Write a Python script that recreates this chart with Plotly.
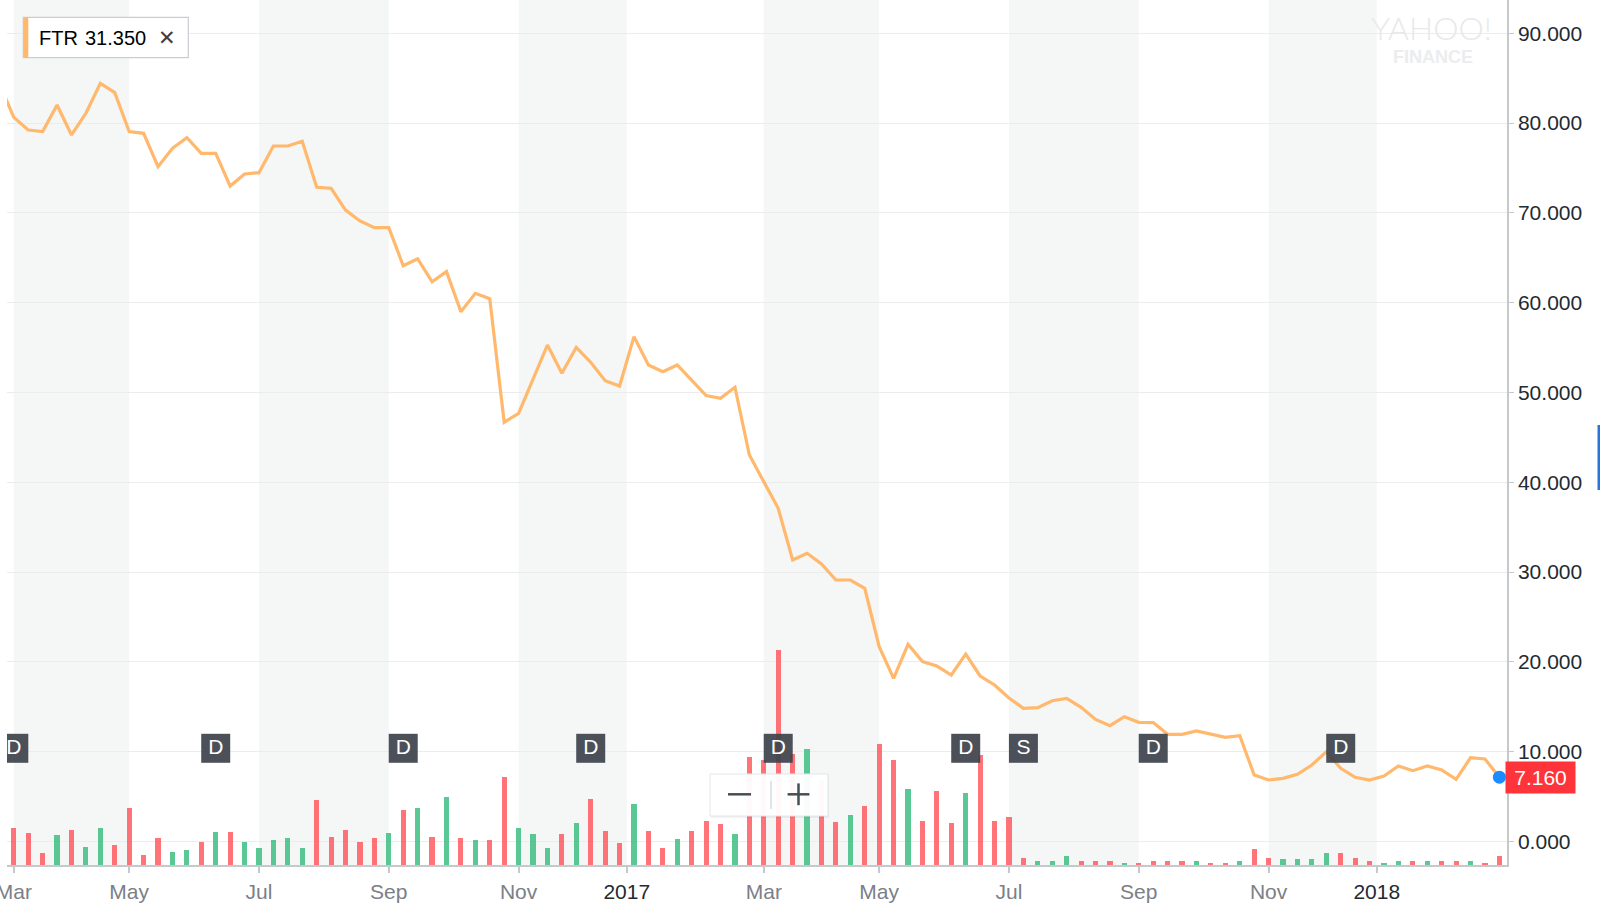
import pandas as pd
import plotly.graph_objects as go

# ---------------- data ----------------
weeks = [d.strftime("%Y-%m-%d") for d in pd.date_range("2016-02-29", periods=105, freq="7D")]

price = [84.4,
         80.64, 79.23, 79.05, 82.02, 78.68, 81.09, 84.43, 83.39, 79.05, 78.86,
         75.15, 77.19, 78.38, 76.63, 76.63, 72.99, 74.33, 74.48, 77.45, 77.45,
         77.97, 72.85, 72.74, 70.32, 69.10, 68.36, 68.36, 64.12, 64.90, 62.34,
         63.46, 59.00, 61.04, 60.45, 46.68, 47.68, 51.47, 55.29, 52.14, 55.03,
         53.36, 51.32, 50.72, 56.22, 53.06, 52.32, 53.06, 51.32, 49.65, 49.35,
         50.58, 43.04, 40.07, 37.10, 31.35, 32.09, 30.90, 29.12, 29.12, 28.20,
         21.70, 18.17, 21.96, 20.03, 19.54, 18.54, 20.88, 18.43, 17.43, 15.98,
         14.83, 14.90, 15.68, 15.94, 14.94, 13.60, 12.90, 13.90, 13.27, 13.24,
         11.94, 11.94, 12.31, 11.97, 11.60, 11.79, 7.41, 6.85, 7.03, 7.48,
         8.52, 10.00, 8.15, 7.15, 6.85, 7.29, 8.41, 7.89, 8.41, 7.96,
         6.92, 9.33, 9.19, 7.16]

volume_m = [60,
            74, 64, 24, 61, 71, 37, 74, 41, 114, 21,
            54, 27, 31, 47, 67, 67, 47, 34, 51, 54,
            34, 131, 57, 71, 47, 54, 64, 111, 114, 57,
            137, 54, 51, 51, 176, 75, 62, 35, 62, 85,
            132, 69, 45, 122, 69, 35, 52, 69, 89, 82,
            62, 217, 210, 431, 223, 233, 170, 87, 100, 119,
            243, 210, 152, 89, 149, 85, 145, 220, 89, 96,
            15, 9, 9, 19, 9, 9, 9, 5, 5, 9,
            9, 9, 9, 5, 5, 9, 32, 15, 12, 12,
            12, 25, 25, 15, 9, 5, 9, 9, 9, 9,
            9, 9, 5, 19]

# per-week direction (u = up week, d = down week)
direction = [
    "d",
    "d", "d", "d", "u", "d", "u", "u", "d", "d", "d",
    "d", "u", "u", "d", "u", "d", "u", "u", "u", "u",
    "u", "d", "d", "d", "d", "d", "u", "d", "u", "d",
    "u", "d", "u", "d", "d", "u", "u", "u", "d", "u",
    "d", "d", "d", "u", "d", "d", "u", "d", "d", "d",
    "u", "d", "d", "d", "d", "u", "d", "d", "u", "d",
    "d", "d", "u", "d", "d", "d", "u", "d", "d", "d",
    "d", "u", "u", "u", "d", "d", "d", "u", "d", "d",
    "d", "d", "u", "d", "d", "u", "d", "d", "u", "u",
    "u", "u", "d", "d", "d", "u", "u", "d", "u", "d",
    "d", "u", "d", "d",
]
assert len(price) == len(weeks) == len(volume_m) == len(direction)

event_weeks = ["2016-03-07", "2016-06-13", "2016-09-12", "2016-12-12", "2017-03-13",
               "2017-06-12", "2017-07-10", "2017-09-11", "2017-12-11"]
event_types = ["D", "D", "D", "D", "D", "D", "S", "D", "D"]

tick_dates = ["2016-03-07", "2016-05-02", "2016-07-04", "2016-09-05", "2016-11-07",
              "2016-12-29 12:00", "2017-03-06", "2017-05-01", "2017-07-03", "2017-09-04",
              "2017-11-06", "2017-12-28 12:00"]
tick_names = ["Mar", "May", "Jul", "Sep", "Nov", "2017", "Mar", "May", "Jul", "Sep", "Nov", "2018"]

band_edges = [("2016-03-07", "2016-05-02"), ("2016-07-04", "2016-09-05"),
              ("2016-11-07", "2016-12-29 12:00"), ("2017-03-06", "2017-05-01"),
              ("2017-07-03", "2017-09-04"), ("2017-11-06", "2017-12-28 12:00")]

y_ticks = [0, 10, 20, 30, 40, 50, 60, 70, 80, 90]
symbol = "FTR"
legend_value = "31.350"
last_price = price[-1]

# ---------------- styling ----------------
W, H = 1600, 903
ML, MR, MT, MB = 7, 93, 0, 38
PW, PH = W - ML - MR, H - MT - MB
FONT = "Liberation Sans"
LINE_C = "#ffb86c"
UP_C = "rgba(60,190,130,0.85)"
DN_C = "rgba(255,80,88,0.8)"
AXIS_C = "#c5c9cc"


def xp(px):
    return (px - ML) / PW


def yp(py):
    return 1 - (py - MT) / PH


fig = go.Figure()

fig.add_trace(go.Bar(
    x=weeks, y=volume_m, yaxis="y2",
    marker=dict(color=[UP_C if d == "u" else DN_C for d in direction], line=dict(width=0)),
    width=2.5 * 86400000, hoverinfo="skip", showlegend=False))

fig.add_trace(go.Scatter(
    x=weeks, y=price, mode="lines", yaxis="y",
    line=dict(color=LINE_C, width=3.2), hoverinfo="skip", showlegend=False))

fig.add_trace(go.Scatter(
    x=event_weeks, y=[1 - 748.3 / PH] * len(event_weeks), yaxis="y3",
    mode="markers+text", text=event_types, textposition="middle center",
    textfont=dict(family=FONT, size=21, color="white"),
    marker=dict(symbol="square", size=29, color="rgba(62,68,76,0.93)",
                line=dict(width=0)),
    hoverinfo="skip", showlegend=False))

fig.add_trace(go.Scatter(
    x=[weeks[-1]], y=[last_price], mode="markers", yaxis="y",
    marker=dict(size=13, color="#1a8cff"), cliponaxis=False,
    hoverinfo="skip", showlegend=False))

shapes = []
for a, b in band_edges:
    shapes.append(dict(type="rect", xref="x", yref="paper", x0=a, x1=b, y0=0, y1=1,
                       fillcolor="#f5f6f6", line=dict(width=0), layer="below"))

# legend chip
shapes.append(dict(type="rect", xref="paper", yref="paper", x0=xp(23.3), x1=xp(188.3),
                   y0=yp(57.7), y1=yp(17.3), fillcolor="white",
                   line=dict(color="#c9cdd1", width=1.2), layer="above"))
shapes.append(dict(type="rect", xref="paper", yref="paper", x0=xp(23.3), x1=xp(28.3),
                   y0=yp(57.7), y1=yp(17.3), fillcolor=LINE_C,
                   line=dict(width=0), layer="above"))

# zoom control
shapes.append(dict(type="rect", xref="paper", yref="paper", x0=xp(711), x1=xp(829),
                   y0=yp(818), y1=yp(775), fillcolor="rgba(0,0,0,0.05)",
                   line=dict(width=0), layer="above"))
shapes.append(dict(type="rect", xref="paper", yref="paper", x0=xp(710), x1=xp(828),
                   y0=yp(816), y1=yp(774), fillcolor="rgba(255,255,255,0.96)",
                   line=dict(color="#e3e6e8", width=1), layer="above"))
shapes.append(dict(type="line", xref="paper", yref="paper", x0=xp(771), x1=xp(771),
                   y0=yp(809), y1=yp(781), line=dict(color="#cfd3d6", width=1.2), layer="above"))
shapes.append(dict(type="line", xref="paper", yref="paper", x0=xp(728), x1=xp(751),
                   y0=yp(794.3), y1=yp(794.3), line=dict(color="#464e56", width=2.5), layer="above"))
shapes.append(dict(type="line", xref="paper", yref="paper", x0=xp(787.6), x1=xp(809.4),
                   y0=yp(794.3), y1=yp(794.3), line=dict(color="#464e56", width=2.5), layer="above"))
shapes.append(dict(type="line", xref="paper", yref="paper", x0=xp(798.5), x1=xp(798.5),
                   y0=yp(805.2), y1=yp(783.4), line=dict(color="#464e56", width=2.5), layer="above"))

# blue edge handle
shapes.append(dict(type="rect", xref="paper", yref="paper", x0=xp(1597.5), x1=xp(1601),
                   y0=yp(490), y1=yp(425), fillcolor="#2a73d9", line=dict(width=0), layer="above"))

annotations = [
    dict(text=symbol, x=xp(37.3), y=yp(37.8), xref="paper", yref="paper",
         xanchor="left", yanchor="middle", showarrow=False,
         font=dict(family=FONT, size=20, color="#000000")),
    dict(text=legend_value, x=xp(83.3), y=yp(37.8), xref="paper", yref="paper",
         xanchor="left", yanchor="middle", showarrow=False,
         font=dict(family=FONT, size=20, color="#000000")),
    dict(text="✕", x=xp(166.5), y=yp(37.8), xref="paper", yref="paper",
         xanchor="center", yanchor="middle", showarrow=False,
         font=dict(family="DejaVu Sans", size=21, color="#3a3f45")),
    dict(text="YAHOO!", x=xp(1431.5), y=yp(27.5), xref="paper", yref="paper",
         xanchor="center", yanchor="middle", showarrow=False,
         font=dict(family="Lato", size=32, color="#e7e9ea", weight=300)),
    dict(text="<b>FINANCE</b>", x=xp(1432.5), y=yp(57), xref="paper", yref="paper",
         xanchor="center", yanchor="middle", showarrow=False,
         font=dict(family=FONT, size=18, color="#ebedee")),
    dict(text="%.3f" % last_price, x=1, xref="paper", xanchor="left", xshift=-2,
         y=last_price, yref="y", yanchor="middle", showarrow=False,
         bgcolor="#ff333a", width=69, height=31, borderpad=0,
         font=dict(family=FONT, size=21, color="white")),
]

ticktext = []
for t in tick_names:
    if t.isdigit():
        ticktext.append('<span style="color:#232a31">%s</span>' % t)
    else:
        ticktext.append(t)

x_left = pd.Timestamp(weeks[1]) - pd.Timedelta(days=3.3)
x_right = pd.Timestamp(weeks[-1]) + pd.Timedelta(days=3.7)
px_per_unit = 8.98
zero_px = 841.5
y_lo = (zero_px - PH) / px_per_unit
y_hi = zero_px / px_per_unit

fig.update_layout(
    width=W, height=H, autosize=False,
    margin=dict(l=ML, r=MR, t=MT, b=MB, pad=0, autoexpand=False),
    paper_bgcolor="white", plot_bgcolor="white",
    font=dict(family=FONT),
    showlegend=False, bargap=0,
    xaxis=dict(type="date", range=[x_left, x_right], tickmode="array",
               tickvals=tick_dates, ticktext=ticktext,
               tickfont=dict(family=FONT, size=21, color="#7b8087"),
               ticks="outside", ticklen=6, tickcolor=AXIS_C, tickwidth=1.5,
               showline=True, linecolor=AXIS_C, linewidth=1.5,
               showgrid=False, zeroline=False, ticklabelstandoff=1,
               ticklabeloverflow="allow", automargin=False),
    yaxis=dict(side="right", range=[y_lo, y_hi], tickmode="array", tickvals=y_ticks,
               tickformat=".3f", tickfont=dict(family=FONT, size=21, color="#232a31"),
               showgrid=True, gridcolor="#ececec", gridwidth=1.2, zeroline=False,
               showline=True, linecolor=AXIS_C, linewidth=1.5, automargin=False,
               ticks="outside", ticklen=5, tickcolor=AXIS_C, tickwidth=1.2),
    yaxis2=dict(overlaying="y", range=[0, 2 * PH], visible=False, fixedrange=True),
    yaxis3=dict(overlaying="y", range=[0, 1], visible=False, fixedrange=True),
    shapes=shapes, annotations=annotations,
)

fig.write_html("out.html", config={"displayModeBar": False},
               post_script="document.body.style.margin='0';document.body.style.overflow='hidden';")
